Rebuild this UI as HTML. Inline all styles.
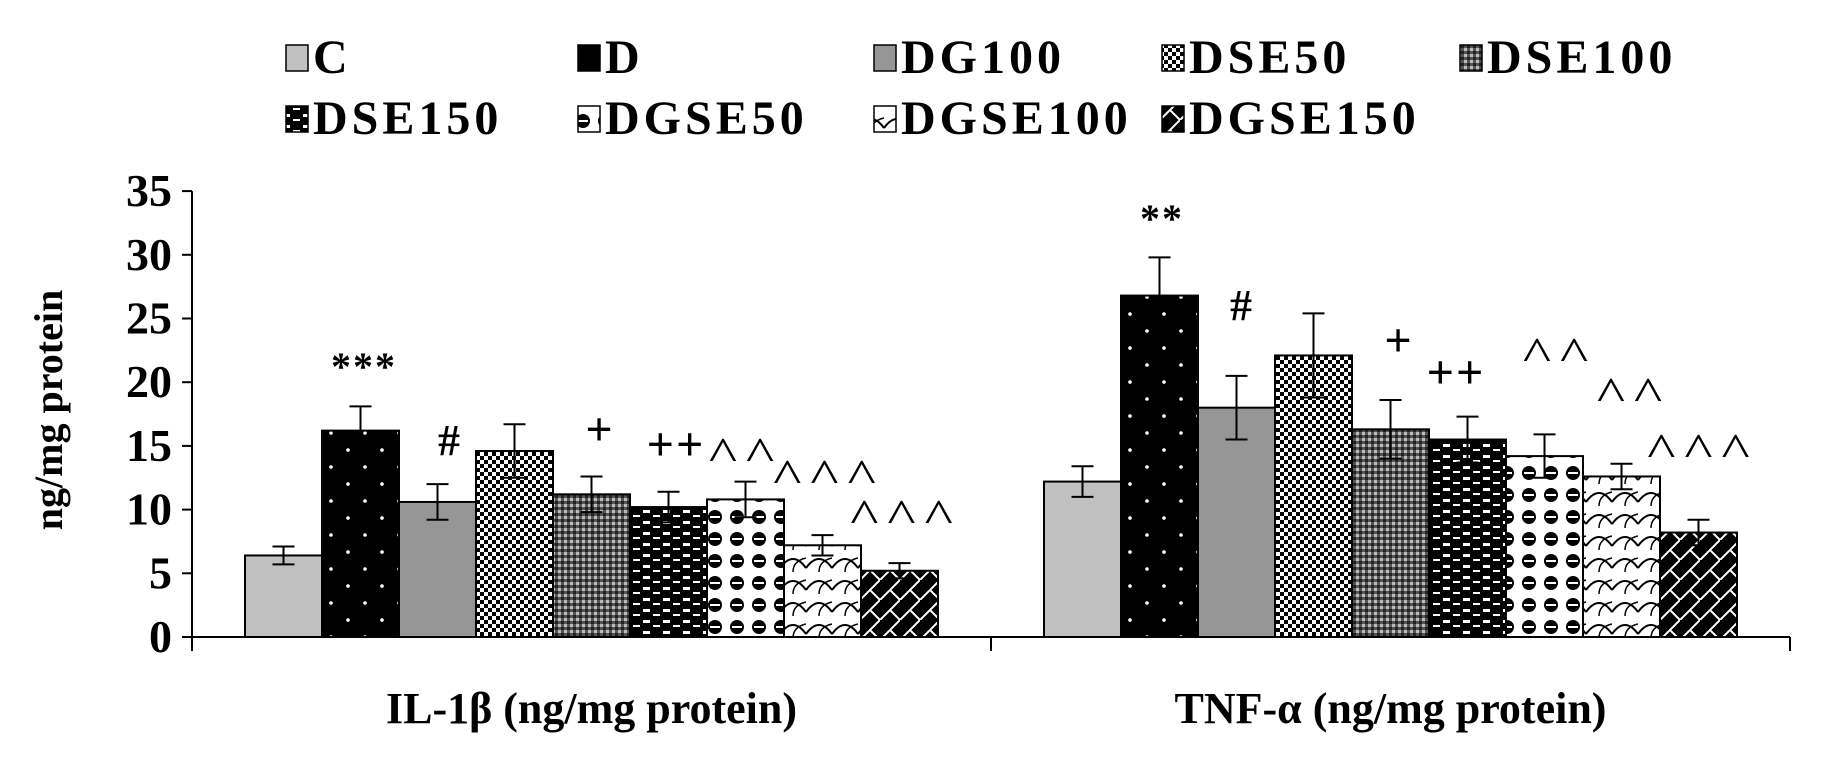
<!DOCTYPE html>
<html><head><meta charset="utf-8">
<style>
html,body{margin:0;padding:0;background:#fff;}
svg{display:block;font-family:"Liberation Serif","Times New Roman",serif;font-weight:bold;}
</style></head>
<body>
<svg id="chart" width="1832" height="759" viewBox="0 0 1832 759" xmlns="http://www.w3.org/2000/svg">
<defs>
  <pattern id="p1" width="34" height="34" patternUnits="userSpaceOnUse"><rect width="34" height="34" fill="#000"/><circle cx="8" cy="8" r="1.8" fill="#fff"/><circle cx="25" cy="25" r="1.8" fill="#fff"/></pattern>
  <pattern id="p3" width="8" height="8" patternUnits="userSpaceOnUse"><rect width="8" height="8" fill="#fff"/><rect width="4" height="4" fill="#000"/><rect x="4" y="4" width="4" height="4" fill="#000"/></pattern>
  <pattern id="p4" width="6" height="6" patternUnits="userSpaceOnUse"><rect width="6" height="6" fill="#555"/><rect width="3" height="3" fill="#bbb"/><rect x="3" y="3" width="3" height="3" fill="#222"/></pattern>
  <pattern id="p5" width="20" height="11" patternUnits="userSpaceOnUse"><rect width="20" height="11" fill="#000"/><rect x="3" y="4" width="7" height="3" fill="#fff"/><rect x="13" y="9" width="7" height="2" fill="#fff"/></pattern>
  <pattern id="p6" width="22" height="22" patternUnits="userSpaceOnUse"><rect width="22" height="22" fill="#fff"/><circle cx="11" cy="11" r="7" fill="#000"/><rect x="6" y="10" width="10" height="2" fill="#fff"/></pattern>
  <pattern id="p7" width="26" height="22" patternUnits="userSpaceOnUse"><rect width="26" height="22" fill="#fff"/><path d="M0 18 Q13 0 26 18" fill="none" stroke="#000" stroke-width="2"/><path d="M13 22 Q13 11 26 8" fill="none" stroke="#000" stroke-width="1.5"/></pattern>
  <pattern id="p8" width="20" height="20" patternUnits="userSpaceOnUse"><rect width="20" height="20" fill="#000"/><path d="M0 20 L20 0 M10 10 L20 20" stroke="#fff" stroke-width="2"/></pattern>
</defs>
<g id="legend"></g>
<g id="axes"></g>
<g id="bars"></g>
<g id="annots"></g>
</svg>
<script>
const groups = ["IL-1\u03b2 (ng/mg protein)", "TNF-\u03b1 (ng/mg protein)"];
const series = ["C","D","DG100","DSE50","DSE100","DSE150","DGSE50","DGSE100","DGSE150"];
const ilValues = [6.4,16.2,10.6,14.6,11.2,10.2,10.8,7.2,5.2];
const ilErrors = [0.7,1.9,1.4,2.1,1.4,1.2,1.4,0.8,0.6];
const tnfValues = [12.2,26.8,18.0,22.1,16.3,15.5,14.2,12.6,8.2];
const tnfErrors = [1.2,3.0,2.5,3.3,2.3,1.8,1.7,1.0,1.0];
const yTicks = [0,5,10,15,20,25,30,35];
const ilMarks = ["***","#","+","++","^^","^^^","^^^"];
const tnfMarks = ["**","#","+","++","^^","^^","^^^"];

const fills = ["#c0c0c0","url(#p1)","#969696","url(#p3)","url(#p4)","url(#p5)","url(#p6)","url(#p7)","url(#p8)"];
const NS="http://www.w3.org/2000/svg";
const X0=192, X1=1790, Y0=637, PPU=12.74, BW=77;
const y = v => Y0 - v*PPU;
const catW = (X1-X0)/groups.length;
const barX = (g,i) => X0 + catW*g + catW/2 - BW*series.length/2 + i*BW;
function mk(tag, attrs, parent){const e=document.createElementNS(NS,tag);for(const k in attrs)e.setAttribute(k,attrs[k]);parent.appendChild(e);return e;}

const axes=document.getElementById('axes');
let ax=mk('line',{x1:X0,y1:y(35),x2:X0,y2:Y0+14,stroke:'#000','stroke-width':2},axes);


let bx=mk('line',{x1:X0,y1:Y0,x2:X1,y2:Y0,stroke:'#000','stroke-width':2},axes);


for(let g=1;g<=groups.length;g++){
  let t=mk('line',{x1:X0+catW*g,y1:Y0,x2:X0+catW*g,y2:Y0+14,stroke:'#000','stroke-width':2},axes);
  
  
}
yTicks.forEach(v=>{
  let t=mk('line',{x1:X0-10,y1:y(v),x2:X0,y2:y(v),stroke:'#000','stroke-width':2},axes);
  
  
  let l=mk('text',{x:X0-20,y:y(v)+15,'text-anchor':'end','font-size':46},axes);
  l.textContent=v;
  
  
});
let yt=mk('text',{x:0,y:0,'text-anchor':'middle','font-size':40,transform:'translate(62,410) rotate(-90)'},axes);
yt.textContent='ng/mg protein';


groups.forEach((gname,g)=>{
  let t=mk('text',{x:X0+catW*g+catW/2,y:723,'text-anchor':'middle','font-size':44},axes);
  t.textContent=gname;
  
  
});

const bars=document.getElementById('bars');
const data=[[ilValues,ilErrors],[tnfValues,tnfErrors]];
data.forEach(([vals,errs],g)=>{
  vals.forEach((v,i)=>{
    const x=barX(g,i);
    let r=mk('rect',{x:x,y:y(v),width:BW,height:v*PPU,fill:fills[i],stroke:'#000','stroke-width':2},bars);
    
    
    const cx=x+BW/2, e=errs[i];
    let eb=mk('path',{d:`M${cx} ${y(v-e)} L${cx} ${y(v+e)} M${cx-11} ${y(v+e)} L${cx+11} ${y(v+e)} M${cx-11} ${y(v-e)} L${cx+11} ${y(v-e)}`,stroke:'#000','stroke-width':2,fill:'none'},bars);
    
    
  });
});

const annots=document.getElementById('annots');
// annotation positions are for labels only (not data marks)
const ilPos=[[364,380,40],[450,455,44],[600,445,48],[676,460,48],[746,470,40],[829,492,40],[906,532,40]];
const tnfPos=[[1162,232,40],[1242,320,44],[1399,356,48],[1456,388,48],[1560,370,40],[1634,410,40],[1703,466,40]];
[[ilMarks,ilPos],[tnfMarks,tnfPos]].forEach(([marks,pos])=>{
  marks.forEach((m,k)=>{
    let t=mk('text',{x:pos[k][0],y:pos[k][1],'text-anchor':'middle','font-size':pos[k][2],'font-weight':m.startsWith('^')?'normal':'bold','letter-spacing':m.startsWith('^')?6:2},annots);
    t.textContent=m;
    if(m.startsWith('^')) t.setAttribute('transform',`translate(${pos[k][0]},${pos[k][1]}) scale(1.5,1.2) translate(${-pos[k][0]},${-pos[k][1]})`);
    
    
  });
});

const legend=document.getElementById('legend');
const legX=[286,578,874,1162,1460];
series.forEach((s,i)=>{
  const lx=legX[i%5], base=i<5?73:134;
  let sw=mk('rect',{x:lx,y:base-28,width:22,height:26,fill:fills[i],stroke:'#000','stroke-width':1.5},legend);
  
  
  let t=mk('text',{x:lx+27,y:base,'font-size':48,'letter-spacing':4},legend);
  t.textContent=s;
  
  
});
</script>
</body></html>
